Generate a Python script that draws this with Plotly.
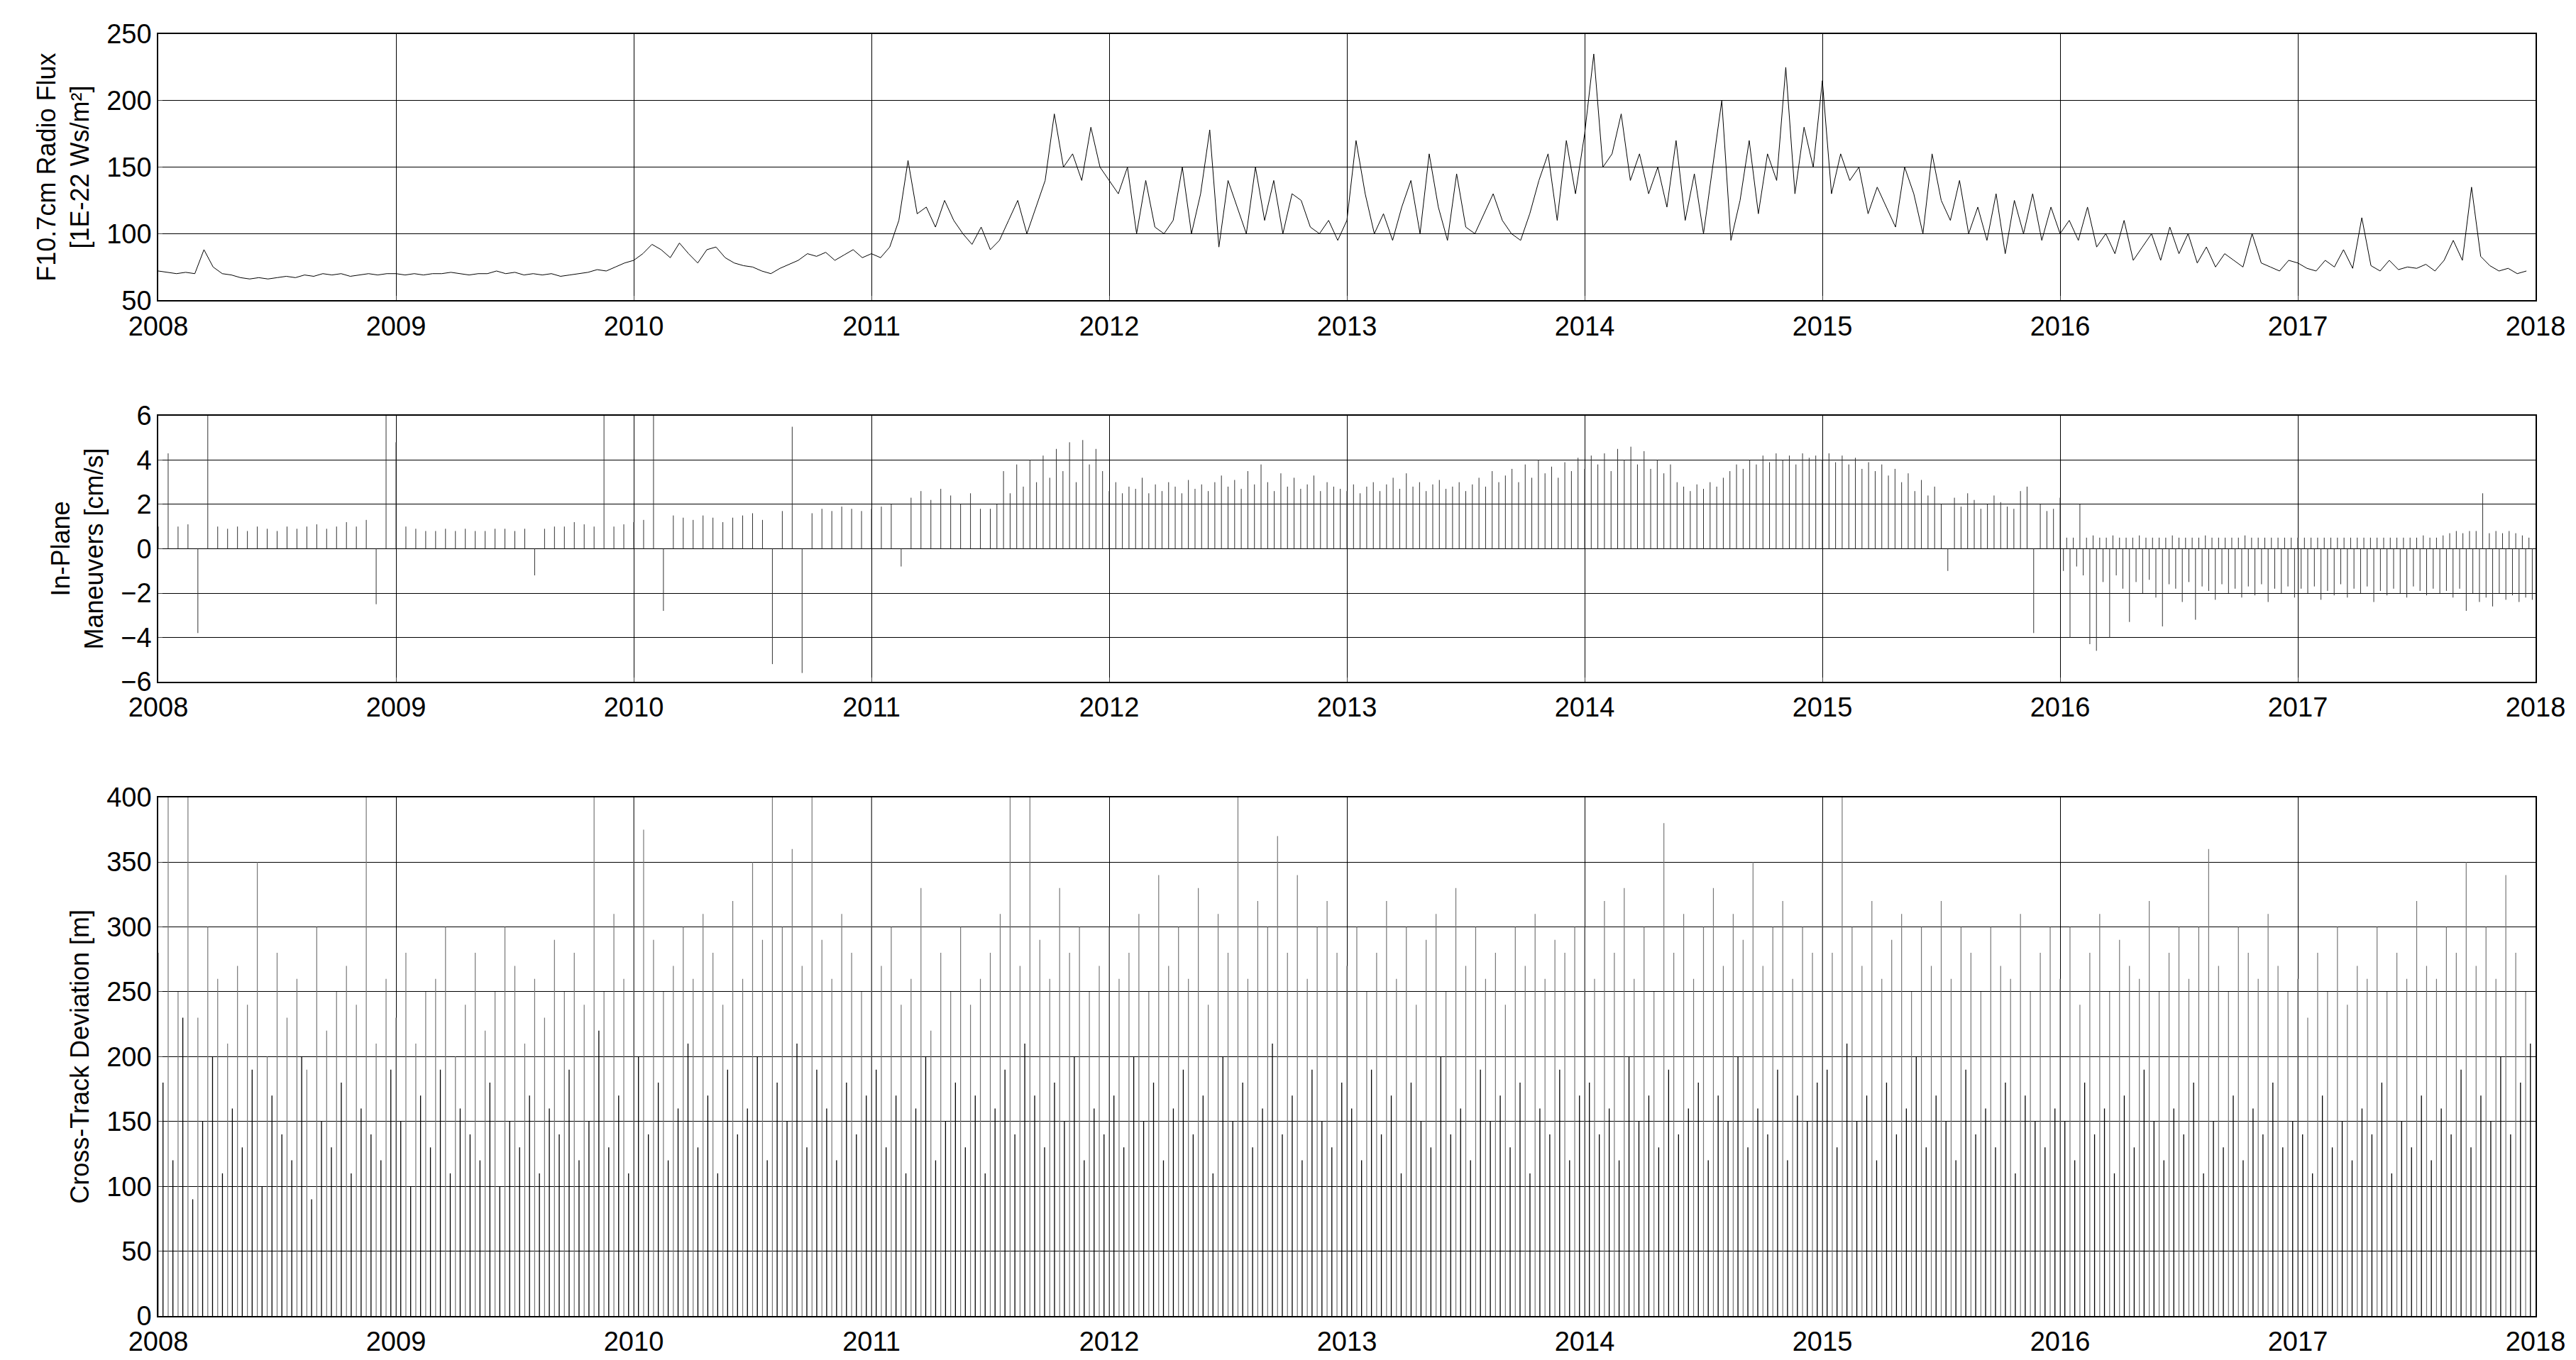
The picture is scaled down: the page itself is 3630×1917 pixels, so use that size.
import numpy as np
import plotly.graph_objects as go
from plotly.subplots import make_subplots

### DATA (biweekly / ~10-day samples) ###

# F10.7 radio flux, 26 samples per year
f107 = [
    72, 71, 70, 71, 70, 88, 75, 70, 69, 67, 66, 67, 66, 67, 68, 67, 69, 68, 70, 69, 70, 68, 69, 70, 69, 70,
    70, 69, 70, 69, 70, 70, 71, 70, 69, 70, 70, 72, 70, 71, 69, 70, 69, 70, 68, 69, 70, 71, 73, 72, 75, 78,
    80, 85, 92, 88, 82, 93, 85, 78, 88, 90, 82, 78, 76, 75, 72, 70, 74, 77, 80, 85, 83, 86, 80, 84, 88, 82,
    85, 82, 90, 110, 155, 115, 120, 105, 125, 110, 100, 92, 105, 88, 95, 110, 125, 100, 120, 140, 190, 150, 160, 140, 180, 150,
    140, 130, 150, 100, 140, 105, 100, 110, 150, 100, 130, 178, 90, 140, 120, 100, 150, 110, 140, 100, 130, 125, 105, 100, 110, 95,
    110, 170, 130, 100, 115, 95, 120, 140, 100, 160, 120, 95, 145, 105, 100, 115, 130, 110, 100, 95, 115, 140, 160, 110, 170, 130,
    175, 235, 150, 160, 190, 140, 160, 130, 150, 120, 170, 110, 145, 100, 150, 200, 95, 125, 170, 115, 160, 140, 225, 130, 180, 150,
    215, 130, 160, 140, 150, 115, 135, 120, 105, 150, 130, 100, 160, 125, 110, 140, 100, 120, 95, 130, 85, 125, 100, 130, 95, 120,
    100, 110, 95, 120, 90, 100, 85, 110, 80, 90, 100, 80, 105, 85, 100, 78, 90, 75, 85, 80, 75, 100, 78, 75, 72, 80,
    78, 74, 72, 80, 75, 88, 74, 112, 76, 72, 80, 73, 75, 74, 77, 72, 80, 95, 80, 135, 83, 76, 72, 74, 70, 72,
]

# In-plane maneuvers, 2008.0-2011.5 at 24 per year
man_early = [
    1.0, 4.3, 1.0, 1.1, -3.8, 6.0, 1.0, 0.9, 1.0, 0.8, 1.0, 0.9, 0.8, 1.0, 0.9, 1.0, 1.1, 0.9, 1.0, 1.2, 1.0, 1.3, -2.5, 6.0,
    4.8, 1.0, 0.9, 0.8, 0.8, 0.9, 0.8, 0.9, 0.8, 0.8, 0.9, 0.9, 0.8, 0.9, -1.2, 0.9, 1.0, 1.0, 1.2, 1.1, 1.0, 6.0, 1.0, 1.1,
    1.2, 1.3, 6.0, -2.8, 1.5, 1.4, 1.3, 1.5, 1.4, 1.2, 1.4, 1.5, 1.6, 1.3, -5.2, 1.7, 5.5, -5.6, 1.6, 1.8, 1.7, 1.9, 1.8, 1.7,
    1.8, 1.9, 2.0, -0.8, 2.3, 2.6, 2.2, 2.7, 2.4, 2.0, 2.5, 1.8,
]
# 2011.5-2016.0 at 36 per year
man_mid = [
    1.8, 2.0, 3.5, 2.5, 3.8, 2.8, 4.0, 3.0, 4.2, 3.2, 4.5, 3.5, 4.8, 3.0, 4.9, 3.8, 4.5, 3.5,
    2.6, 3.0, 2.5, 2.8, 2.7, 3.2, 2.5, 2.9, 2.6, 3.0, 2.8, 2.5, 3.1, 2.7, 2.9, 2.6, 3.0, 3.3, 2.8, 3.1, 2.7, 3.5, 2.9, 3.8, 3.0, 2.6, 3.4, 2.8, 3.2, 2.7, 2.9, 3.3, 2.6, 3.0, 2.8, 2.7,
    2.6, 2.9, 2.5, 2.8, 3.0, 2.6, 2.9, 3.2, 2.7, 3.4, 2.8, 3.0, 2.6, 2.9, 3.1, 2.7, 2.8, 3.0, 2.6, 2.9, 3.2, 2.8, 3.5, 3.0, 3.3, 3.6, 3.0, 3.8, 3.2, 4.0, 3.4, 3.7, 3.2, 3.9, 3.5, 4.1,
    3.6, 4.2, 3.8, 4.3, 3.5, 4.5, 4.0, 4.6, 3.8, 4.4, 3.6, 4.0, 3.4, 3.8, 3.0, 2.8, 2.6, 2.9, 2.7, 3.0, 2.8, 3.2, 3.5, 3.8, 3.6, 4.0, 3.8, 4.2, 3.9, 4.3, 4.0, 4.2, 3.8, 4.3, 4.1, 4.2,
    4.0, 4.3, 3.9, 4.2, 3.8, 4.1, 3.6, 3.9, 3.5, 3.8, 3.3, 3.6, 3.0, 3.4, 2.6, 3.1, 2.4, 2.8, 2.0, -1.0, 2.3, 1.9, 2.5, 2.2, 1.8, 2.0, 2.4, 2.1, 1.9, 1.8, 2.6, 2.8, -3.8, 2.0, 1.7, 1.8,
]
# 2016.0-2018.0 at 36 per year: small positive burns and retrograde burns
man_late_pos = [
    2.3, 0.5, 0.5, 2.0, 0.5, 0.6, 0.5, 0.5, 0.6, 0.5, 0.5, 0.5, 0.6, 0.5, 0.5, 0.5, 0.5, 0.6, 0.5, 0.5, 0.5, 0.5, 0.6, 0.5, 0.5, 0.5, 0.5, 0.5, 0.6, 0.5, 0.5, 0.5, 0.5, 0.5, 0.5, 0.5,
    0.5, 0.5, 0.5, 0.5, 0.5, 0.5, 0.5, 0.5, 0.5, 0.5, 0.5, 0.5, 0.5, 0.5, 0.5, 0.5, 0.5, 0.5, 0.5, 0.6, 0.5, 0.5, 0.6, 0.7, 0.8, 0.7, 0.8, 0.8, 2.5, 0.7, 0.8, 0.7, 0.8, 0.7, 0.6, 0.5,
]
man_late_neg = [
    -1.0, -4.0, -0.8, -1.2, -4.3, -4.6, -1.5, -4.0, -1.2, -1.8, -3.3, -1.5, -2.0, -1.4, -2.2, -3.5, -1.6, -1.8, -2.4, -1.5, -3.2, -1.7, -1.9, -2.3, -1.6, -2.0, -1.8, -2.2, -1.7, -2.1, -1.6, -2.4, -1.8, -2.0, -1.7, -2.2,
    -1.8, -2.0, -1.7, -2.3, -1.9, -2.1, -1.6, -2.2, -1.8, -2.0, -1.7, -2.4, -1.9, -2.1, -1.8, -2.0, -2.2, -1.7, -1.9, -2.1, -1.8, -2.0, -1.9, -2.2, -1.8, -2.8, -2.0, -2.4, -2.2, -2.6, -2.0, -2.3, -2.1, -2.4, -2.2, -2.3,
]

# Cross-track deviation spikes, 24 per year: envelope (grey) and bulk (black)
ct_peak = [
    280, 400, 250, 400, 230, 300, 260, 210, 270, 240, 350, 200, 280, 230, 260, 190, 300, 220, 250, 270, 240, 400, 210, 260,
    230, 280, 210, 250, 260, 300, 200, 240, 280, 220, 250, 300, 270, 210, 260, 230, 290, 250, 280, 240, 400, 250, 310, 260,
    400, 375, 290, 250, 270, 300, 260, 310, 280, 240, 320, 260, 350, 290, 400, 300, 360, 270, 400, 290, 260, 310, 280, 250,
    400, 270, 300, 240, 260, 330, 220, 280, 250, 300, 240, 260, 280, 310, 400, 270, 400, 290, 260, 330, 280, 300, 250, 270,
    300, 260, 280, 310, 250, 340, 270, 300, 260, 330, 240, 310, 280, 400, 260, 320, 300, 370, 280, 340, 260, 300, 320, 280,
    270, 300, 250, 280, 320, 260, 300, 240, 290, 310, 250, 330, 270, 300, 260, 280, 240, 300, 270, 310, 260, 290, 280, 300,
    300, 260, 320, 280, 330, 260, 300, 250, 380, 280, 310, 260, 300, 330, 270, 310, 290, 350, 270, 300, 320, 260, 300, 280,
    350, 280, 400, 300, 270, 320, 260, 290, 310, 250, 300, 270, 320, 260, 300, 280, 250, 300, 270, 260, 310, 250, 280, 300,
    260, 300, 240, 280, 310, 250, 290, 270, 260, 320, 250, 280, 300, 260, 300, 360, 270, 250, 300, 280, 260, 310, 270, 250,
    260, 230, 280, 250, 300, 240, 270, 260, 300, 250, 280, 260, 320, 270, 260, 300, 280, 350, 270, 300, 260, 340, 280, 250,
]
ct_bulk = [
    180, 120, 230, 90, 150, 200, 110, 160, 130, 190, 100, 170, 140, 120, 200, 90, 150, 130, 180, 110, 160, 140, 120, 190,
    150, 100, 170, 130, 190, 110, 160, 140, 120, 180, 100, 150, 130, 170, 110, 160, 140, 190, 120, 150, 220, 130, 170, 110,
    200, 140, 180, 120, 160, 210, 130, 170, 110, 190, 140, 160, 200, 120, 180, 150, 210, 130, 190, 160, 120, 180, 140, 170,
    190, 130, 170, 110, 160, 200, 120, 150, 180, 130, 170, 110, 160, 190, 140, 210, 170, 130, 180, 150, 200, 120, 160, 140,
    170, 130, 200, 150, 180, 120, 160, 190, 140, 170, 110, 200, 150, 180, 130, 160, 210, 140, 170, 120, 190, 150, 130, 180,
    160, 120, 190, 140, 170, 110, 180, 150, 130, 200, 140, 160, 120, 190, 150, 170, 130, 180, 110, 160, 140, 190, 120, 170,
    180, 140, 160, 120, 200, 150, 170, 130, 190, 140, 160, 180, 120, 170, 150, 200, 130, 160, 140, 190, 120, 170, 150, 180,
    190, 130, 210, 150, 170, 120, 180, 140, 160, 200, 130, 170, 150, 120, 190, 140, 160, 130, 180, 110, 170, 150, 130, 160,
    150, 120, 180, 140, 160, 110, 170, 130, 190, 150, 120, 160, 140, 180, 110, 150, 130, 170, 120, 160, 140, 180, 130, 150,
    140, 110, 170, 130, 150, 120, 160, 140, 180, 110, 150, 130, 170, 120, 160, 140, 190, 130, 170, 150, 200, 140, 180, 210,
]

### HELPERS ###

def times(start, n, per_year):
    return start + np.arange(n) / per_year

def spikes(t, v):
    # vertical line from 0 to each value, separated by gaps
    x = np.repeat(t, 3).astype(object)
    y = np.column_stack([np.zeros(len(v)), v, np.full(len(v), np.nan)]).ravel().astype(object)
    x[2::3] = None
    y[2::3] = None
    return x, y

### FIGURE ###

fig = make_subplots(rows=3, cols=1, vertical_spacing=0.09,
                    row_heights=[0.195, 0.195, 0.38])

fig.add_trace(go.Scatter(x=times(2008, len(f107), 26), y=f107, mode='lines',
                         line=dict(color='black', width=1)), row=1, col=1)

t_m = np.concatenate([times(2008, len(man_early), 24),
                      times(2011.5, len(man_mid), 36),
                      times(2016, len(man_late_pos), 36),
                      times(2016.014, len(man_late_neg), 36)])
v_m = np.concatenate([man_early, man_mid, man_late_pos, man_late_neg])
mx, my = spikes(t_m, v_m)
fig.add_trace(go.Scatter(x=mx, y=my, mode='lines',
                         line=dict(color='#333333', width=1)), row=2, col=1)

cx, cy = spikes(times(2008, len(ct_peak), 24), np.array(ct_peak, float))
fig.add_trace(go.Scatter(x=cx, y=cy, mode='lines',
                         line=dict(color='#777777', width=1.2)), row=3, col=1)
bx, by = spikes(times(2008.02, len(ct_bulk), 24), np.array(ct_bulk, float))
fig.add_trace(go.Scatter(x=bx, y=by, mode='lines',
                         line=dict(color='black', width=1.3)), row=3, col=1)

axfont = dict(family='Liberation Sans, Arial', size=38, color='black')
titlefont = dict(family='Liberation Sans, Arial', size=36, color='black')
for r in (1, 2, 3):
    fig.update_xaxes(range=[2008, 2018], tickvals=list(range(2008, 2019)),
                     ticktext=[str(y) for y in range(2008, 2019)],
                     showgrid=True, gridcolor='black', gridwidth=1,
                     showline=True, linecolor='black', linewidth=1.5, mirror=True,
                     ticks='inside', ticklen=6, tickfont=axfont, zeroline=False,
                     ticklabelstandoff=2, row=r, col=1)
    fig.update_yaxes(showgrid=True, gridcolor='black', gridwidth=1,
                     showline=True, linecolor='black', linewidth=1.5, mirror=True,
                     ticks='inside', ticklen=6, tickfont=axfont, zeroline=False,
                     title_font=titlefont, title_standoff=14, row=r, col=1)

fig.update_yaxes(range=[50, 250], dtick=50,
                 title_text='F10.7cm Radio Flux<br>[1E-22 Ws/m²]', row=1, col=1)
fig.update_yaxes(range=[-6, 6], dtick=2,
                 title_text='In-Plane<br>Maneuvers [cm/s]', row=2, col=1)
fig.update_yaxes(range=[0, 400], dtick=50,
                 title_text='Cross-Track Deviation [m]', row=3, col=1)

fig.update_layout(
    width=3630, height=1917,
    showlegend=False,
    plot_bgcolor='white', paper_bgcolor='white',
    margin=dict(l=215, r=65, t=40, b=70),
    font=axfont,
)

fig.write_html('out.html')
